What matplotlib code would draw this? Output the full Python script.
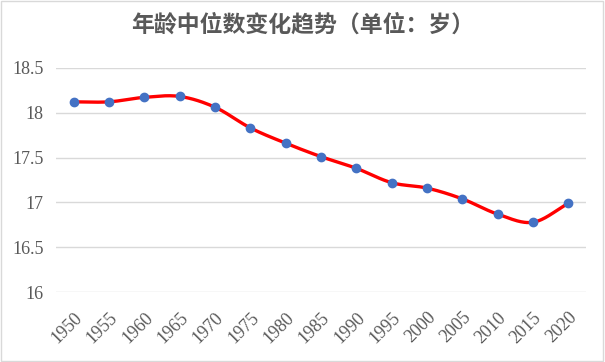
import numpy as np
import matplotlib
matplotlib.use('Agg')
import matplotlib.pyplot as plt
from matplotlib.patches import Rectangle

# данные
years = ['1950', '1955', '1960', '1965', '1970', '1975', '1980', '1985',
         '1990', '1995', '2000', '2005', '2010', '2015', '2020']
median_age = [18.12, 18.12, 18.17, 18.18, 18.06, 17.83, 17.66, 17.51,
              17.38, 17.22, 17.16, 17.04, 16.87, 16.78, 16.99]
y_ticks = [16, 16.5, 17, 17.5, 18, 18.5]
y_tick_labels = ['16', '16.5', '17', '17.5', '18', '18.5']
title = '年龄中位数变化趋势（单位：岁）'


# сглаживание как в Excel (Catmull-Rom), только для отрисовки линии
def smooth(x, y, n=30):
    x = np.asarray(x, float)
    y = np.asarray(y, float)
    px = np.concatenate([[2 * x[0] - x[1]], x, [2 * x[-1] - x[-2]]])
    py = np.concatenate([[2 * y[0] - y[1]], y, [2 * y[-1] - y[-2]]])
    xs, ys = [], []
    t = np.linspace(0, 1, n)
    for i in range(1, len(px) - 2):
        for p, out in ((px, xs), (py, ys)):
            p0, p1, p2, p3 = p[i - 1], p[i], p[i + 1], p[i + 2]
            out.extend(0.5 * (2 * p1 + (-p0 + p2) * t
                              + (2 * p0 - 5 * p1 + 4 * p2 - p3) * t ** 2
                              + (-p0 + 3 * p1 - 3 * p2 + p3) * t ** 3))
    return np.array(xs), np.array(ys)


fig = plt.figure(figsize=(6.05, 3.62), dpi=100)
fig.patches.append(Rectangle((0.002, 0.003), 0.995, 0.993, transform=fig.transFigure,
                             fill=False, edgecolor='#d9d9d9', linewidth=1))
ax = fig.add_axes([0.0926, 0.1925, 0.876, 0.6205])

x = np.arange(len(years))
sx, sy = smooth(x, median_age)
ax.plot(sx, sy, color='#ff0000', linewidth=2.4, solid_capstyle='round', zorder=2)
ax.plot(x, median_age, 'o', color='#4472c4', markersize=6, zorder=3)

ax.set_xlim(-0.5, len(years) - 0.5)
ax.set_ylim(16, 18.5)
ax.set_yticks(y_ticks)
ax.set_yticklabels(y_tick_labels, family='Liberation Serif', fontsize=13,
                   color='#595959')
ax.set_xticks(x)
ax.set_xticklabels(years, family='Liberation Serif', fontsize=13, color='#595959',
                   rotation=45, ha='right', va='top', rotation_mode='anchor')
ax.tick_params(length=0, pad=9)
ax.tick_params(axis='x', pad=12)
for s in ax.spines.values():
    s.set_visible(False)
ax.yaxis.grid(True, color='#d9d9d9', linewidth=1)
ax.set_axisbelow(True)

fig.text(0.5, 0.93, title, ha='center', va='center', fontsize=16.5,
         family=['Noto Sans CJK SC', 'DejaVu Sans'], fontweight='bold', color='#595959')

fig.savefig('out.png', dpi=100)
